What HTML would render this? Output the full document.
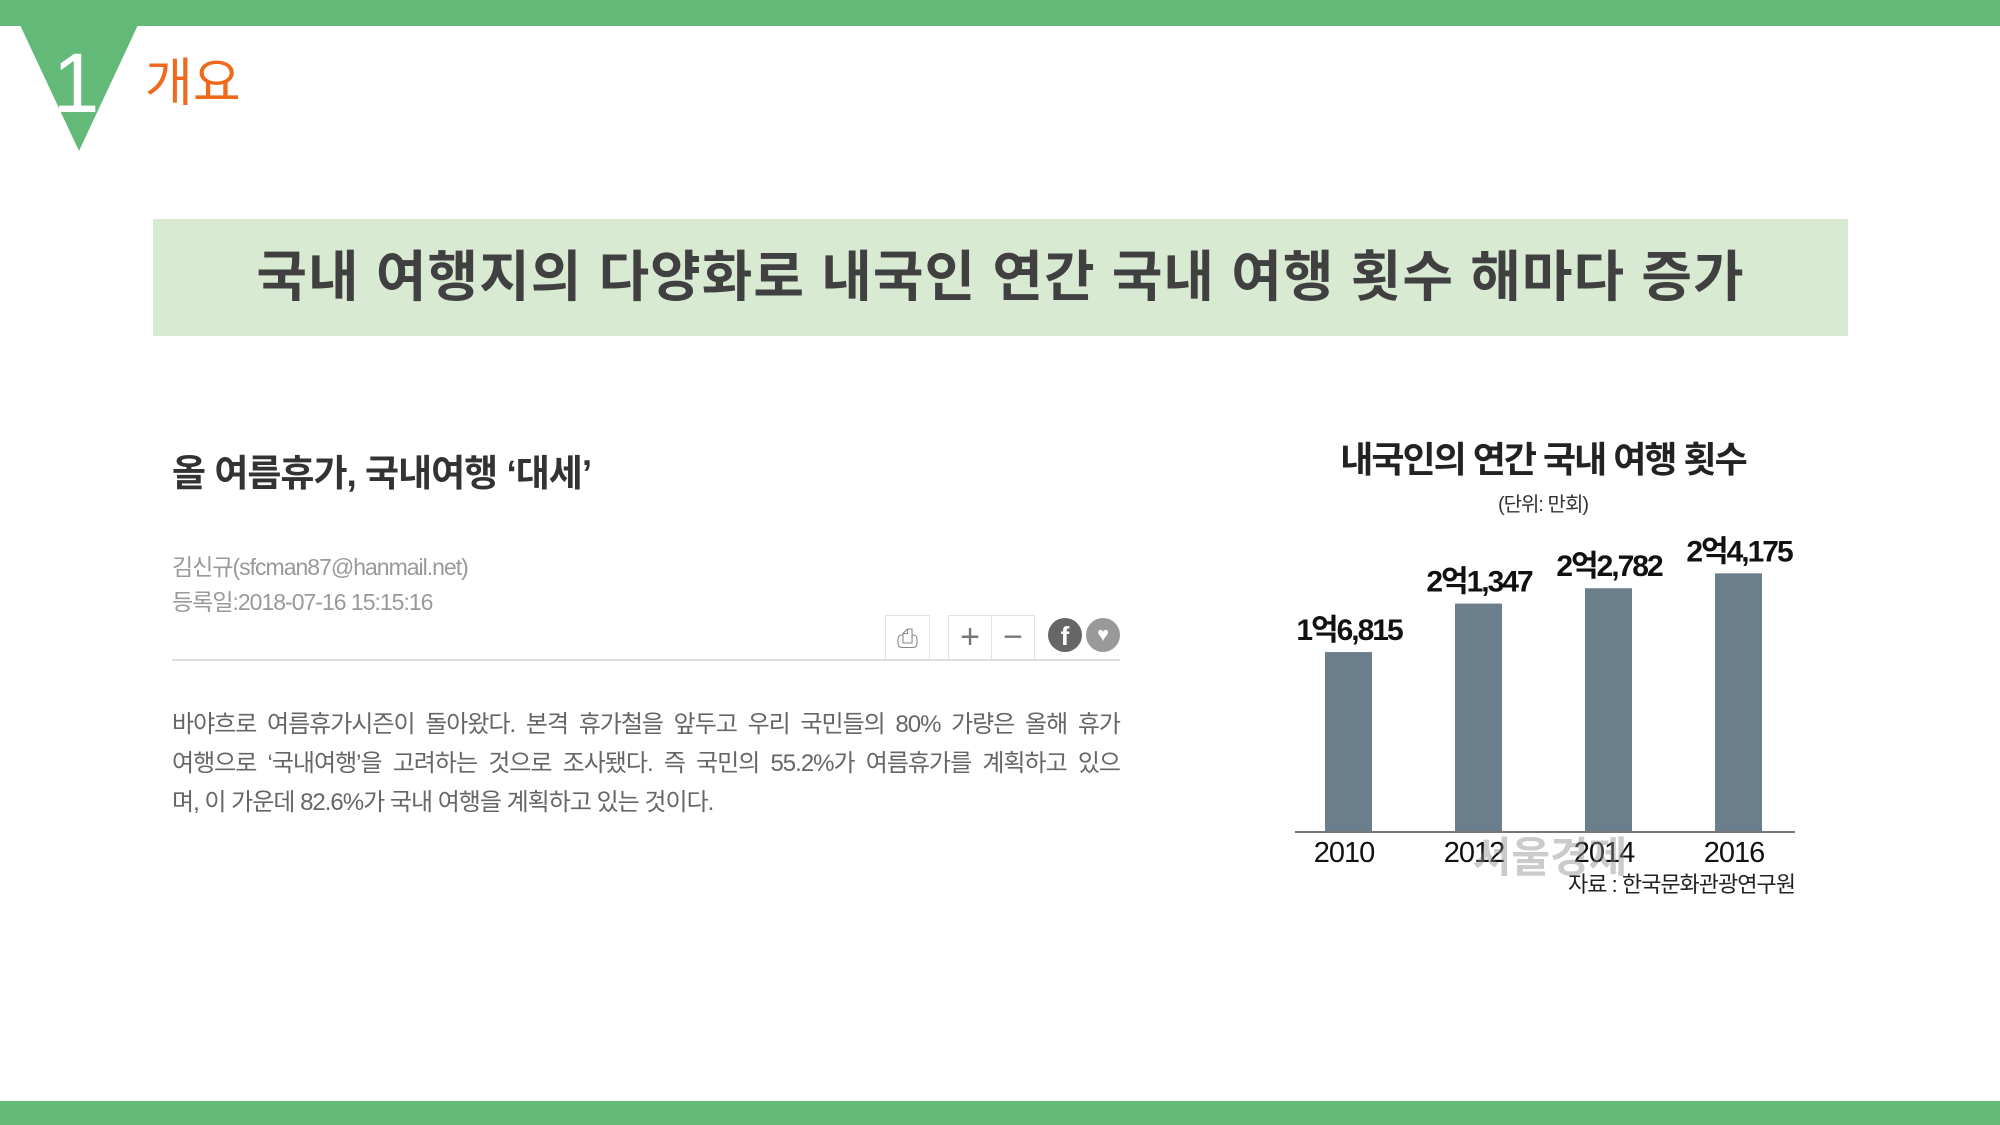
<!DOCTYPE html>
<html><head><meta charset="utf-8"><style>
body{margin:0;width:2000px;height:1125px;background:#fff;position:relative;overflow:hidden;font-family:"Liberation Sans","Noto Sans CJK KR",sans-serif}
.abs{position:absolute}
.bl{text-align:justify;text-align-last:justify;white-space:nowrap}
</style></head><body>
<div class="abs" style="left:0;top:0;width:2000px;height:26px;background:#63ba78"></div>
<div class="abs" style="left:0;top:1101px;width:2000px;height:24px;background:#63ba78"></div>
<svg class="abs" style="left:0;top:0" width="200" height="170"><polygon points="20,25 138,25 79,151" fill="#63ba78"/><text x="76" y="112" text-anchor="middle" fill="#fff" font-size="84" font-family="Liberation Sans, sans-serif">1</text></svg>
<div class="abs" style="left:145px;top:52px;font-size:52px;color:#ef6a1c;line-height:64px">개요</div>
<div class="abs" style="left:153px;top:219px;width:1695px;height:117px;background:#d9ead3;text-align:center;line-height:117px;font-size:55px;font-weight:bold;color:#404040;letter-spacing:1px">국내 여행지의 다양화로 내국인 연간 국내 여행 횟수 해마다 증가</div>
<div class="abs" style="left:172px;top:443px;font-size:37px;font-weight:bold;color:#333;letter-spacing:-1px">올 여름휴가, 국내여행 ‘대세’</div>
<div class="abs" style="left:172px;top:548px;font-size:23px;color:#999;letter-spacing:-1px">김신규(sfcman87@hanmail.net)</div>
<div class="abs" style="left:172px;top:583px;font-size:23px;color:#999;letter-spacing:-1px">등록일:2018-07-16 15:15:16</div>
<div class="abs" style="left:885px;top:615px;width:45px;height:45px;border:1px solid #e2e2e2;box-sizing:border-box;text-align:center;line-height:44px;color:#888;font-size:26px">⎙</div>
<div class="abs" style="left:948px;top:615px;width:44px;height:45px;border:1px solid #e2e2e2;box-sizing:border-box;text-align:center;line-height:42px;color:#777;font-size:34px">+</div>
<div class="abs" style="left:991px;top:615px;width:44px;height:45px;border:1px solid #e2e2e2;box-sizing:border-box;text-align:center;line-height:42px;color:#777;font-size:34px">−</div>
<div class="abs" style="left:1048px;top:618px;width:34px;height:34px;border-radius:50%;background:#666;color:#fff;text-align:center;line-height:36px;font-weight:bold;font-size:26px">f</div>
<div class="abs" style="left:1086px;top:618px;width:34px;height:34px;border-radius:50%;background:#999;color:#fff;text-align:center;line-height:34px;font-size:20px">♥</div>
<div class="abs" style="left:172px;top:659px;width:948px;height:2px;background:#ddd"></div>
<div class="abs" style="left:172px;top:705px;width:948px;font-size:24px;line-height:39px;color:#666;letter-spacing:-1px">
<div class="bl">바야흐로 여름휴가시즌이 돌아왔다. 본격 휴가철을 앞두고 우리 국민들의 80% 가량은 올해 휴가</div>
<div class="bl">여행으로 ‘국내여행’을 고려하는 것으로 조사됐다. 즉 국민의 55.2%가 여름휴가를 계획하고 있으</div>
<div>며, 이 가운데 82.6%가 국내 여행을 계획하고 있는 것이다.</div>
</div>
<svg class="abs" id="chart" style="left:0;top:0" width="2000" height="1125"></svg>
<script>
const categories=["2010","2012","2014","2016"];
const values=[16815,21347,22782,24175];
const valueLabels=["1억6,815","2억1,347","2억2,782","2억4,175"];
const NS="http://www.w3.org/2000/svg";
const svg=document.getElementById('chart');
const baseY=832;
function yScale(v){return baseY-v*0.0107;}
function xScale(i){return 1349+i*130;}
function mk(tag,attrs,txt){const e=document.createElementNS(NS,tag);for(const k in attrs)e.setAttribute(k,attrs[k]);if(txt!==undefined)e.textContent=txt;svg.appendChild(e);return e;}
const FF="Liberation Sans, Noto Sans CJK KR, sans-serif";
let t=mk('text',{x:1543,y:472,'text-anchor':'middle','font-size':36,'font-weight':'bold',fill:'#222','font-family':FF,'letter-spacing':'-2'},'내국인의 연간 국내 여행 횟수');


t=mk('text',{x:1543,y:511,'text-anchor':'middle','font-size':20,fill:'#333','font-family':FF,'letter-spacing':'-1'},'(단위: 만회)');


values.forEach((v,i)=>{
  const cx=xScale(i),y=yScale(v);
  const r=mk('rect',{x:cx-24,y:y,width:47,height:baseY-y,fill:'#6b7e8c'});
  
  
  const l=mk('text',{x:cx,y:y-12,'text-anchor':'middle','font-size':30,'font-weight':'bold',fill:'#111','font-family':FF,'letter-spacing':'-2'},valueLabels[i]);
  
  
  const c=mk('text',{x:cx-5,y:862,'text-anchor':'middle','font-size':29,fill:'#111','font-family':FF,'letter-spacing':'-1'},categories[i]);
  
  
});
const ax=mk('line',{x1:1295,x2:1795,y1:baseY,y2:baseY,stroke:'#777','stroke-width':2});


t=mk('text',{x:1550,y:872,'text-anchor':'middle','font-size':42,'font-weight':'bold',fill:'rgba(140,140,140,0.45)','font-family':FF},'서울경제');


t=mk('text',{x:1795,y:892,'text-anchor':'end','font-size':22,fill:'#222','font-family':FF,'letter-spacing':'-1'},'자료 : 한국문화관광연구원');


</script>
</body></html>
